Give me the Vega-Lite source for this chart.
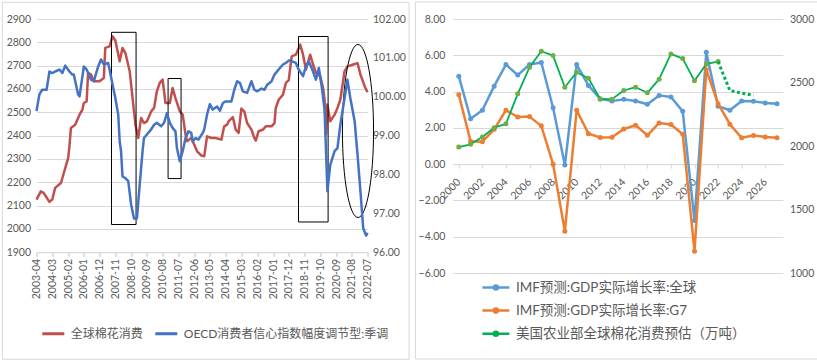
{
 "$schema": "https://vega.github.io/schema/vega-lite/v6.json",
 "background": "white",
 "padding": {"left": 1.5, "top": 1, "right": 0, "bottom": 0},
 "spacing": 4.4,
 "config": {
  "font": "Lato, 'Noto Sans CJK SC'",
  "view": {"stroke": null},
  "axis": {"labelColor": "#595959", "labelFontSize": 10.5, "domain": false, "ticks": false, "grid": false},
  "legend": {"labelColor": "#595959"}
 },
 "resolve": {"scale": {"color": "independent"}, "legend": {"color": "independent"}},
 "datasets": {
  "cotton_m": [
   {"d":"2003-04","v":2126},{"d":"2003-07","v":2161},{"d":"2003-09","v":2155},{"d":"2004-01","v":2116},{"d":"2004-03","v":2126},{"d":"2004-05","v":2176},{"d":"2004-09","v":2197},{"d":"2004-11","v":2240},{"d":"2005-02","v":2304},{"d":"2005-03","v":2354},{"d":"2005-04","v":2433},{"d":"2005-07","v":2447},{"d":"2005-10","v":2490},{"d":"2005-12","v":2512},{"d":"2006-01","v":2540},{"d":"2006-03","v":2547},{"d":"2006-04","v":2669},{"d":"2006-06","v":2662},{"d":"2006-08","v":2633},{"d":"2006-12","v":2633},{"d":"2007-03","v":2647},{"d":"2007-04","v":2776},{"d":"2007-07","v":2783},{"d":"2007-09","v":2826},{"d":"2007-11","v":2808},{"d":"2008-02","v":2719},{"d":"2008-04","v":2776},{"d":"2008-06","v":2754},{"d":"2008-09","v":2676},{"d":"2008-11","v":2561},{"d":"2009-01","v":2447},{"d":"2009-03","v":2390},{"d":"2009-05","v":2476},{"d":"2009-07","v":2454},{"d":"2009-09","v":2461},{"d":"2009-12","v":2504},{"d":"2010-02","v":2519},{"d":"2010-04","v":2590},{"d":"2010-06","v":2626},{"d":"2010-08","v":2640},{"d":"2010-10","v":2540},{"d":"2011-01","v":2540},{"d":"2011-03","v":2604},{"d":"2011-05","v":2561},{"d":"2011-08","v":2504},{"d":"2011-10","v":2490},{"d":"2011-12","v":2405},{"d":"2012-01","v":2376},{"d":"2012-04","v":2390},{"d":"2012-06","v":2362},{"d":"2012-08","v":2333},{"d":"2012-11","v":2315},{"d":"2013-01","v":2312},{"d":"2013-03","v":2397},{"d":"2013-06","v":2390},{"d":"2013-09","v":2390},{"d":"2014-01","v":2383},{"d":"2014-03","v":2440},{"d":"2014-05","v":2447},{"d":"2014-06","v":2461},{"d":"2014-09","v":2479},{"d":"2014-11","v":2426},{"d":"2015-01","v":2412},{"d":"2015-03","v":2516},{"d":"2015-05","v":2504},{"d":"2015-07","v":2454},{"d":"2015-10","v":2426},{"d":"2015-12","v":2390},{"d":"2016-01","v":2379},{"d":"2016-03","v":2419},{"d":"2016-06","v":2426},{"d":"2016-08","v":2440},{"d":"2016-12","v":2440},{"d":"2017-02","v":2454},{"d":"2017-03","v":2519},{"d":"2017-05","v":2554},{"d":"2017-08","v":2576},{"d":"2017-10","v":2626},{"d":"2017-12","v":2638},{"d":"2018-02","v":2740},{"d":"2018-05","v":2747},{"d":"2018-08","v":2790},{"d":"2018-10","v":2747},{"d":"2018-12","v":2683},{"d":"2019-03","v":2747},{"d":"2019-05","v":2705},{"d":"2019-07","v":2669},{"d":"2019-10","v":2654},{"d":"2019-12","v":2604},{"d":"2020-01","v":2554},{"d":"2020-02","v":2405},{"d":"2020-03","v":2533},{"d":"2020-05","v":2462},{"d":"2020-08","v":2490},{"d":"2020-10","v":2519},{"d":"2020-12","v":2554},{"d":"2021-03","v":2676},{"d":"2021-05","v":2697},{"d":"2021-09","v":2705},{"d":"2021-12","v":2711},{"d":"2022-02","v":2662},{"d":"2022-05","v":2612},{"d":"2022-07","v":2586}
  ],
  "oecd_m": [
   {"d":"2003-04","v":99.63},{"d":"2003-06","v":100.06},{"d":"2003-08","v":100.18},{"d":"2003-11","v":100.18},{"d":"2004-01","v":100.65},{"d":"2004-03","v":100.61},{"d":"2004-05","v":100.65},{"d":"2004-08","v":100.70},{"d":"2004-10","v":100.61},{"d":"2004-12","v":100.80},{"d":"2005-03","v":100.65},{"d":"2005-05","v":100.57},{"d":"2005-06","v":100.57},{"d":"2005-09","v":100.06},{"d":"2005-10","v":100.01},{"d":"2006-01","v":100.78},{"d":"2006-03","v":100.70},{"d":"2006-06","v":100.44},{"d":"2006-08","v":100.40},{"d":"2006-11","v":100.78},{"d":"2007-01","v":100.96},{"d":"2007-03","v":100.83},{"d":"2007-06","v":100.87},{"d":"2007-07","v":100.70},{"d":"2007-10","v":100.14},{"d":"2007-11","v":99.97},{"d":"2008-01","v":99.54},{"d":"2008-02","v":98.85},{"d":"2008-03","v":98.60},{"d":"2008-04","v":97.95},{"d":"2008-06","v":97.91},{"d":"2008-08","v":97.83},{"d":"2008-10","v":97.23},{"d":"2008-12","v":96.87},{"d":"2009-02","v":96.87},{"d":"2009-04","v":97.74},{"d":"2009-06","v":98.60},{"d":"2009-07","v":98.94},{"d":"2009-09","v":99.03},{"d":"2009-12","v":99.16},{"d":"2010-02","v":99.28},{"d":"2010-04","v":99.33},{"d":"2010-07","v":99.24},{"d":"2010-09","v":99.33},{"d":"2010-11","v":99.58},{"d":"2011-01","v":99.33},{"d":"2011-03","v":99.20},{"d":"2011-05","v":99.11},{"d":"2011-06","v":98.68},{"d":"2011-08","v":98.34},{"d":"2011-10","v":98.60},{"d":"2011-12","v":98.94},{"d":"2012-02","v":99.11},{"d":"2012-04","v":99.07},{"d":"2012-05","v":98.85},{"d":"2012-07","v":98.94},{"d":"2012-09","v":98.90},{"d":"2012-12","v":99.07},{"d":"2013-01","v":99.16},{"d":"2013-03","v":99.54},{"d":"2013-05","v":99.81},{"d":"2013-07","v":99.67},{"d":"2013-10","v":99.75},{"d":"2013-12","v":99.64},{"d":"2014-02","v":99.84},{"d":"2014-04","v":99.88},{"d":"2014-08","v":99.88},{"d":"2014-10","v":100.18},{"d":"2014-12","v":100.40},{"d":"2015-02","v":100.35},{"d":"2015-04","v":100.14},{"d":"2015-07","v":100.10},{"d":"2015-10","v":100.40},{"d":"2015-12","v":100.18},{"d":"2016-02","v":100.14},{"d":"2016-05","v":100.21},{"d":"2016-07","v":100.18},{"d":"2016-09","v":100.31},{"d":"2016-12","v":100.40},{"d":"2017-02","v":100.57},{"d":"2017-05","v":100.70},{"d":"2017-08","v":100.83},{"d":"2017-10","v":100.87},{"d":"2017-12","v":100.93},{"d":"2018-01","v":100.93},{"d":"2018-05","v":100.87},{"d":"2018-07","v":100.70},{"d":"2018-10","v":100.53},{"d":"2018-12","v":100.78},{"d":"2019-02","v":100.91},{"d":"2019-05","v":100.65},{"d":"2019-07","v":100.44},{"d":"2019-09","v":100.74},{"d":"2019-11","v":100.27},{"d":"2020-01","v":99.67},{"d":"2020-02","v":98.60},{"d":"2020-03","v":97.57},{"d":"2020-05","v":98.25},{"d":"2020-08","v":98.60},{"d":"2020-10","v":98.68},{"d":"2020-12","v":99.28},{"d":"2021-03","v":99.97},{"d":"2021-05","v":100.44},{"d":"2021-07","v":99.97},{"d":"2021-10","v":99.37},{"d":"2021-12","v":98.51},{"d":"2022-02","v":97.57},{"d":"2022-04","v":96.62},{"d":"2022-06","v":96.43},{"d":"2022-07","v":96.50}
  ],
  "boxes": [
   {"d":"2007-08-11","x2":"2009-01-14","y1":2843,"y2":2019},
   {"d":"2010-11-25","x2":"2011-08-28","y1":2645,"y2":2216},
   {"d":"2018-06-26","x2":"2020-03-16","y1":2825,"y2":2030}
  ],
  "ellipse": [{"d":"2021-12-11","v":2420}],
  "frame_l": [{"d":"2001-04-05","x2":"2024-11-30","y1":2971.6,"y2":1441.5}],
  "frame_r": [{"year":1996.33,"x2":2030.47,"y1":8.94,"y2":-10.74}],
  "gdp_world": [
   {"year":2000,"v":4.85},{"year":2001,"v":2.5},{"year":2002,"v":2.97},{"year":2003,"v":4.3},{"year":2004,"v":5.49},{"year":2005,"v":4.91},{"year":2006,"v":5.49},{"year":2007,"v":5.6},{"year":2008,"v":3.11},{"year":2009,"v":-0.05},{"year":2010,"v":5.49},{"year":2011,"v":4.34},{"year":2012,"v":3.6},{"year":2013,"v":3.48},{"year":2014,"v":3.57},{"year":2015,"v":3.48},{"year":2016,"v":3.3},{"year":2017,"v":3.79},{"year":2018,"v":3.7},{"year":2019,"v":2.91},{"year":2020,"v":-3.1},{"year":2021,"v":6.17},{"year":2022,"v":3.19},{"year":2023,"v":2.97},{"year":2024,"v":3.48},{"year":2025,"v":3.46},{"year":2026,"v":3.37},{"year":2027,"v":3.33}
  ],
  "gdp_g7": [
   {"year":2000,"v":3.83},{"year":2001,"v":1.26},{"year":2002,"v":1.23},{"year":2003,"v":1.92},{"year":2004,"v":2.97},{"year":2005,"v":2.6},{"year":2006,"v":2.62},{"year":2007,"v":2.11},{"year":2008,"v":0.0},{"year":2009,"v":-3.7},{"year":2010,"v":2.97},{"year":2011,"v":1.68},{"year":2012,"v":1.47},{"year":2013,"v":1.48},{"year":2014,"v":1.94},{"year":2015,"v":2.14},{"year":2016,"v":1.59},{"year":2017,"v":2.27},{"year":2018,"v":2.18},{"year":2019,"v":1.65},{"year":2020,"v":-4.8},{"year":2021,"v":5.2},{"year":2022,"v":3.33},{"year":2023,"v":2.2},{"year":2024,"v":1.45},{"year":2025,"v":1.58},{"year":2026,"v":1.5},{"year":2027,"v":1.45}
  ],
  "cotton_y": [
   {"year":2000,"v":1992},{"year":2001,"v":2013},{"year":2002,"v":2071},{"year":2003,"v":2144},{"year":2004,"v":2175},{"year":2005,"v":2411},{"year":2006,"v":2620},{"year":2007,"v":2746},{"year":2008,"v":2712},{"year":2009,"v":2463},{"year":2010,"v":2581},{"year":2011,"v":2534},{"year":2012,"v":2369},{"year":2013,"v":2369},{"year":2014,"v":2437},{"year":2015,"v":2463},{"year":2016,"v":2419},{"year":2017,"v":2526},{"year":2018,"v":2725},{"year":2019,"v":2688},{"year":2020,"v":2513},{"year":2021,"v":2646},{"year":2022,"v":2665}
  ],
  "cotton_fc": [
   {"year":2022,"v":2665},{"year":2023,"v":2437},{"year":2024,"v":2416},{"year":2025,"v":2400}
  ]
 },
 "hconcat": [
  {
   "width": 331,
   "height": 233.3,
   "resolve": {"scale": {"y": "independent"}},
   "encoding": {
    "x": {"field": "d", "type": "temporal",
     "scale": {"type": "utc", "nice": false, "domain": [{"year": 2003, "month": 4, "date": 1, "utc": true}, {"year": 2022, "month": 7, "date": 1, "utc": true}]},
     "axis": {"orient": "bottom", "title": null, "format": "%Y-%m", "labelAngle": -90, "labelAlign": "right", "labelBaseline": "middle", "labelFontSize": 10.5, "labelPadding": 2, "labelOverlap": false, "labelBound": false, "labelFlush": false, "ticks": true, "tickSize": 4, "tickColor": "#BFBFBF", "domain": true, "domainColor": "#D9D9D9",
      "values": [
       {"year":2003,"month":4,"date":1,"utc":true},{"year":2004,"month":3,"date":1,"utc":true},{"year":2005,"month":2,"date":1,"utc":true},{"year":2006,"month":1,"date":1,"utc":true},{"year":2006,"month":12,"date":1,"utc":true},{"year":2007,"month":11,"date":1,"utc":true},{"year":2008,"month":10,"date":1,"utc":true},{"year":2009,"month":9,"date":1,"utc":true},{"year":2010,"month":8,"date":1,"utc":true},{"year":2011,"month":7,"date":1,"utc":true},{"year":2012,"month":6,"date":1,"utc":true},{"year":2013,"month":5,"date":1,"utc":true},{"year":2014,"month":4,"date":1,"utc":true},{"year":2015,"month":3,"date":1,"utc":true},{"year":2016,"month":2,"date":1,"utc":true},{"year":2017,"month":1,"date":1,"utc":true},{"year":2017,"month":12,"date":1,"utc":true},{"year":2018,"month":11,"date":1,"utc":true},{"year":2019,"month":10,"date":1,"utc":true},{"year":2020,"month":9,"date":1,"utc":true},{"year":2021,"month":8,"date":1,"utc":true},{"year":2022,"month":7,"date":1,"utc":true}
      ]}}
   },
   "layer": [
    {
     "data": {"name": "cotton_m"},
     "mark": {"type": "line", "strokeWidth": 2.5, "strokeJoin": "round"},
     "encoding": {
      "y": {"field": "v", "type": "quantitative", "scale": {"domain": [1900, 2900], "nice": false, "zero": false},
       "axis": {"orient": "left", "title": null, "format": "d", "values": [1900,2000,2100,2200,2300,2400,2500,2600,2700,2800,2900], "grid": true, "gridColor": "#D9D9D9", "labelPadding": 6}},
      "color": {"datum": "全球棉花消费", "type": "nominal",
       "scale": {"domain": ["全球棉花消费", "OECD消费者信心指数幅度调节型:季调"], "range": ["#C0504D", "#4472C4"]},
       "legend": {"title": null, "orient": "none", "legendX": 4.3, "legendY": 302, "direction": "horizontal", "symbolType": "stroke", "symbolSize": 484, "symbolStrokeWidth": 3, "labelFontSize": 12, "labelOffset": 5, "columnPadding": 5, "labelLimit": 0}}
     }
    },
    {
     "data": {"name": "frame_l"},
     "mark": {"type": "rect", "fillOpacity": 0, "stroke": "#D9D9D9", "strokeWidth": 1},
     "encoding": {
      "x2": {"field": "x2"},
      "y": {"field": "y1", "type": "quantitative", "axis": null, "scale": {"domain": [1900, 2900], "nice": false, "zero": false}},
      "y2": {"field": "y2"}
     }
    },
    {
     "data": {"name": "boxes"},
     "mark": {"type": "rect", "fillOpacity": 0, "stroke": "#000000", "strokeWidth": 1},
     "encoding": {
      "x2": {"field": "x2"},
      "y": {"field": "y1", "type": "quantitative", "axis": null, "scale": {"domain": [1900, 2900], "nice": false, "zero": false}},
      "y2": {"field": "y2"}
     }
    },
    {
     "data": {"name": "ellipse"},
     "mark": {"type": "point", "shape": "M -0.18 0 A 0.18 1 0 1 0 0.18 0 A 0.18 1 0 1 0 -0.18 0 Z", "size": 29929, "filled": false, "stroke": "#000000", "strokeWidth": 1, "opacity": 1},
     "encoding": {
      "y": {"field": "v", "type": "quantitative", "axis": null, "scale": {"domain": [1900, 2900], "nice": false, "zero": false}}
     }
    },
    {
     "data": {"name": "oecd_m"},
     "mark": {"type": "line", "strokeWidth": 2.5, "strokeJoin": "round"},
     "encoding": {
      "y": {"field": "v", "type": "quantitative", "scale": {"domain": [96, 102], "nice": false, "zero": false},
       "axis": {"title": null, "orient": "right", "values": [96,97,98,99,100,101,102], "format": ".2f", "labelPadding": 5}},
      "color": {"datum": "OECD消费者信心指数幅度调节型:季调", "type": "nominal",
       "scale": {"domain": ["全球棉花消费", "OECD消费者信心指数幅度调节型:季调"], "range": ["#C0504D", "#4472C4"]},
       "legend": {"title": null, "orient": "none", "legendX": 4.3, "legendY": 302, "direction": "horizontal", "symbolType": "stroke", "symbolSize": 484, "symbolStrokeWidth": 3, "labelFontSize": 12, "labelOffset": 5, "columnPadding": 5, "labelLimit": 0}}
     }
    }
   ]
  },
  {
   "width": 330,
   "height": 254,
   "resolve": {"scale": {"y": "independent"}},
   "encoding": {
    "x": {"field": "year", "type": "quantitative", "scale": {"domain": [1999.5, 2027.5], "nice": false, "zero": false},
     "axis": {"orient": "bottom", "title": null, "values": [2000,2002,2004,2006,2008,2010,2012,2014,2016,2018,2020,2022,2024,2026], "format": "d", "labelAngle": -45, "labelAlign": "right", "labelBaseline": "middle", "labelFontSize": 10.5, "labelOverlap": false, "labelBound": false, "labelFlush": false, "offset": -108.86, "domain": true, "domainColor": "#D9D9D9", "ticks": true, "tickSize": 4, "tickColor": "#D9D9D9", "labelPadding": 12}}
   },
   "layer": [
    {
     "data": {"name": "gdp_world"},
     "mark": {"type": "line", "strokeWidth": 2.5, "strokeJoin": "round", "point": {"filled": true, "size": 25}},
     "encoding": {
      "y": {"field": "v", "type": "quantitative", "scale": {"domain": [-6, 8], "nice": false, "zero": false},
       "axis": {"orient": "left", "title": null, "values": [-6,-4,-2,0,2,4,6,8], "format": ".2f", "grid": true, "gridColor": "#D9D9D9", "labelPadding": 8}},
      "color": {"datum": "IMF预测:GDP实际增长率:全球", "type": "nominal",
       "scale": {"domain": ["IMF预测:GDP实际增长率:全球", "IMF预测:GDP实际增长率:G7", "美国农业部全球棉花消费预估（万吨）"], "range": ["#5B9BD5", "#ED7D31", "#00B050"]},
       "legend": {"title": null, "orient": "none", "legendX": 28, "legendY": 253.5, "direction": "vertical", "symbolType": "M-1,0L1,0M-0.15,0A0.15,0.15 0 1,1 0.15,0A0.15,0.15 0 1,1 -0.15,0Z", "symbolSize": 729, "symbolStrokeWidth": 2.5, "labelFontSize": 13.5, "labelOffset": 5, "rowPadding": 0.1, "labelLimit": 0}}
     }
    },
    {
     "data": {"name": "gdp_g7"},
     "mark": {"type": "line", "strokeWidth": 2.5, "strokeJoin": "round", "point": {"filled": true, "size": 25}},
     "encoding": {
      "y": {"field": "v", "type": "quantitative", "axis": null, "scale": {"domain": [-6, 8], "nice": false, "zero": false}},
      "color": {"datum": "IMF预测:GDP实际增长率:G7", "type": "nominal"}
     }
    },
    {
     "data": {"name": "frame_r"},
     "mark": {"type": "rect", "fillOpacity": 0, "stroke": "#D9D9D9", "strokeWidth": 1},
     "encoding": {
      "x2": {"field": "x2"},
      "y": {"field": "y1", "type": "quantitative", "axis": null, "scale": {"domain": [-6, 8], "nice": false, "zero": false}},
      "y2": {"field": "y2"}
     }
    },
    {
     "data": {"name": "cotton_y"},
     "mark": {"type": "line", "strokeWidth": 1.8, "strokeJoin": "round"},
     "encoding": {
      "y": {"field": "v", "type": "quantitative", "scale": {"domain": [1000, 3000], "nice": false, "zero": false},
       "axis": {"title": null, "orient": "right", "values": [1000,1500,2000,2500,3000], "format": "d", "labelPadding": 6.5}},
      "color": {"datum": "美国农业部全球棉花消费预估（万吨）", "type": "nominal"}
     }
    },
    {
     "data": {"name": "cotton_y"},
     "mark": {"type": "point", "filled": true, "size": 25, "color": "#70AD47", "opacity": 1},
     "encoding": {
      "y": {"field": "v", "type": "quantitative", "axis": null, "scale": {"domain": [1000, 3000], "nice": false, "zero": false}}
     }
    },
    {
     "data": {"name": "cotton_fc"},
     "mark": {"type": "line", "strokeWidth": 3, "strokeDash": [3, 2.5], "color": "#00B050"},
     "encoding": {
      "y": {"field": "v", "type": "quantitative", "axis": null, "scale": {"domain": [1000, 3000], "nice": false, "zero": false}}
     }
    }
   ]
  }
 ]
}
